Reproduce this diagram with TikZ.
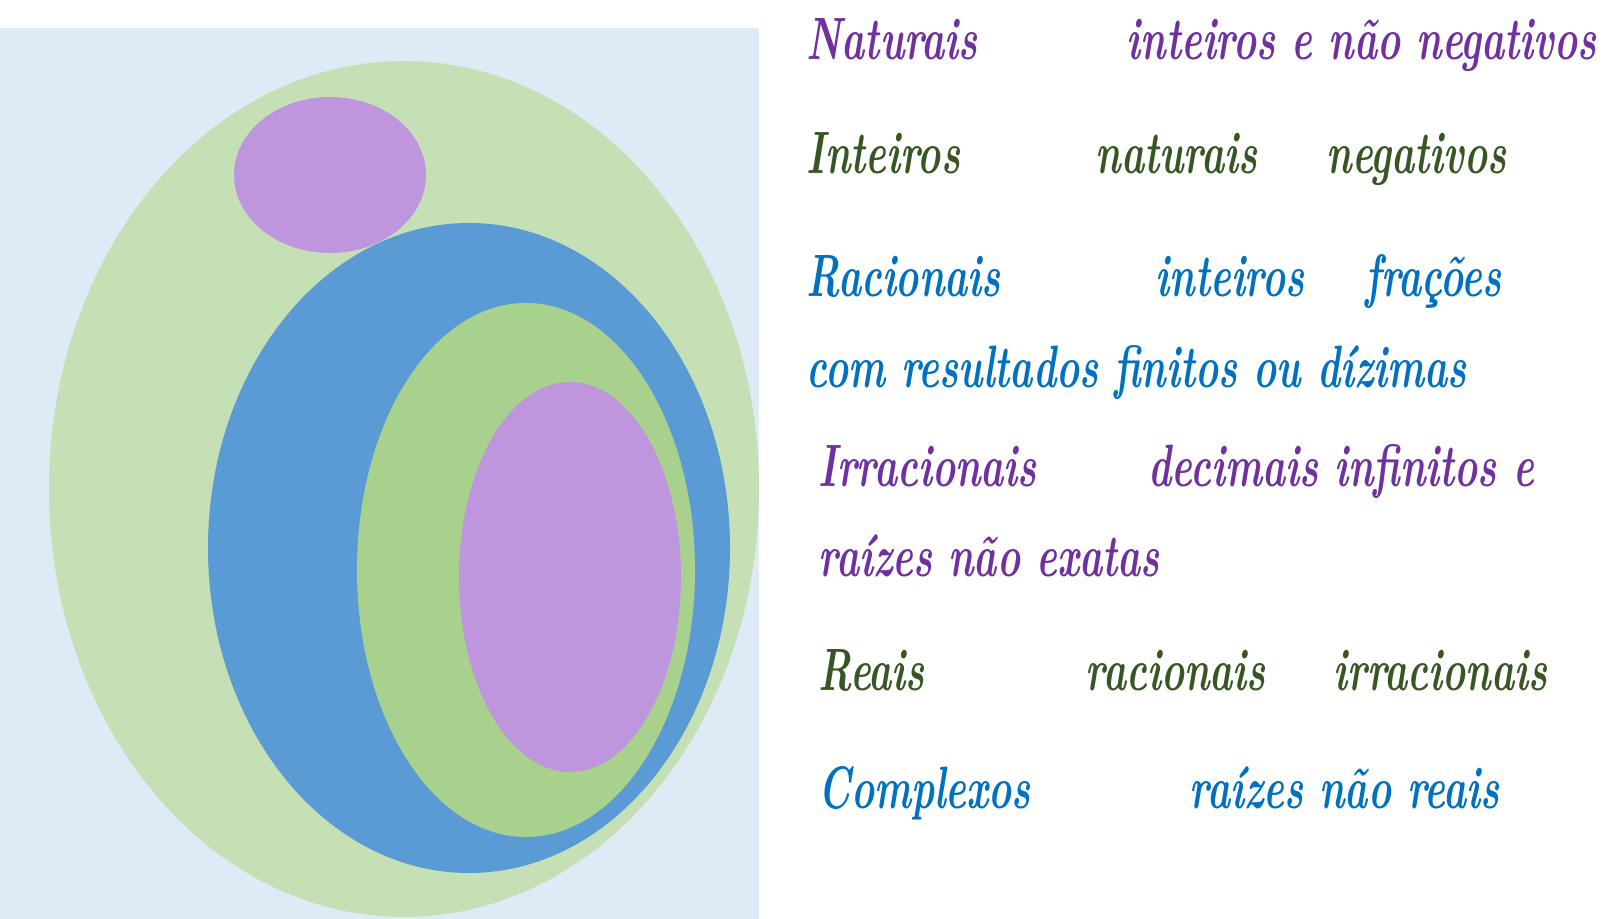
\documentclass[tikz,border=0pt]{standalone}
\usepackage{fontspec}
\usepackage{graphicx}
\usetikzlibrary{positioning}

\definecolor{fundo}{HTML}{DEEAF6}
\definecolor{verdeclaro}{HTML}{C5E0B4}
\definecolor{verdemedio}{HTML}{A9D18E}
\definecolor{azulconj}{HTML}{5B9BD5}
\definecolor{lilas}{HTML}{BF95DE}
\definecolor{roxo}{HTML}{7030A0}
\definecolor{verdeesc}{HTML}{375623}
\definecolor{azultxt}{HTML}{0070C0}

\newcommand{\estreito}[1]{\scalebox{0.655}[1]{#1}}

\tikzset{
    rotulo/.style={anchor=base west, inner sep=0pt,
        font=\fontsize{17}{20}\selectfont\bfseries\itshape},
}

\begin{document}
\begin{tikzpicture}[x=0.01cm, y=-0.01cm]
    \useasboundingbox (0,0) rectangle (1624,919);
    % conjuntos
    \fill[fundo] (0,28) rectangle (759,919);
    \fill[verdeclaro] (404,489) ellipse [x radius=355, y radius=428];
    \fill[lilas] (330,175) ellipse [x radius=96, y radius=78];
    \fill[azulconj] (469,548) ellipse [x radius=261, y radius=325];
    \fill[verdemedio] (526,570) ellipse [x radius=169, y radius=267];
    \fill[lilas] (570,577) ellipse [x radius=111, y radius=195];
    % legenda
    \node[rotulo, text=roxo] (nat) at (806,60) {\estreito{Naturais}};
    \node[rotulo, text=roxo] (natdef) at (1126,60)
        {\estreito{inteiros e não negativos}};
    \node[rotulo, text=verdeesc] (int) at (806,174) {\estreito{Inteiros}};
    \node[rotulo, text=verdeesc] (intnat) at (1095,174) {\estreito{naturais}};
    \node[rotulo, text=verdeesc] (intneg) at (1326,174) {\estreito{negativos}};
    \node[rotulo, text=azultxt] (rac) at (806,297) {\estreito{Racionais}};
    \node[rotulo, text=azultxt] (racint) at (1155,297) {\estreito{inteiros}};
    \node[rotulo, text=azultxt] (racfra) at (1365,297) {\estreito{frações}};
    \node[rotulo, text=azultxt] (racdef) at (806,388)
        {\estreito{com resultados finitos ou dízimas}};
    \node[rotulo, text=roxo] (irr) at (818,487) {\estreito{Irracionais}};
    \node[rotulo, text=roxo] (irrdec) at (1148,487)
        {\estreito{decimais infinitos e}};
    \node[rotulo, text=roxo] (irrrai) at (818,577)
        {\estreito{raízes não exatas}};
    \node[rotulo, text=verdeesc] (rea) at (818,691) {\estreito{Reais}};
    \node[rotulo, text=verdeesc] (rearac) at (1085,691) {\estreito{racionais}};
    \node[rotulo, text=verdeesc] (reairr) at (1333,691) {\estreito{irracionais}};
    \node[rotulo, text=azultxt] (com) at (818,809) {\estreito{Complexos}};
    \node[rotulo, text=azultxt] (comrai) at (1189,809)
        {\estreito{raízes não reais}};
\end{tikzpicture}
\end{document}
